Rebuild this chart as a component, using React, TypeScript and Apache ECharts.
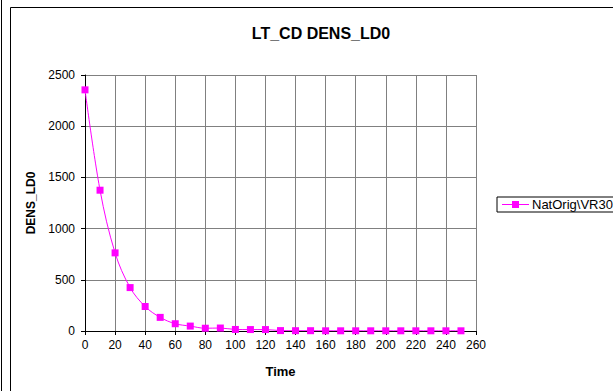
import React, { useEffect, useRef } from "react";
import * as echarts from "echarts";

const titleText = "LT_CD DENS_LD0";
const xName = "Time";
const yName = "DENS_LD0";
const seriesName = "NatOrig\\VR30";
const times = [0, 10, 20, 30, 40, 50, 60, 70, 80, 90, 100, 110, 120, 130, 140, 150, 160, 170, 180, 190, 200, 210, 220, 230, 240, 250];
const values = [2355, 1375, 763, 424, 239, 133, 71, 48, 27, 29, 15, 14, 14, 4, 3, 3, 2, 2, 2, 2, 2, 2, 2, 2, 2, 2];

const FONT = "Liberation Sans, Arial, sans-serif";

export default function App() {
  const ref = useRef<HTMLDivElement>(null);
  useEffect(() => {
    document.body.style.margin = "0";
    document.documentElement.style.overflow = "hidden";
    const chart = echarts.init(ref.current!, null, { renderer: "svg" });
    chart.setOption({
      animation: false,
      backgroundColor: "#ffffff",
      textStyle: { fontFamily: FONT },
      title: {
        text: titleText,
        left: 316,
        top: 20,
        textAlign: "center",
        textStyle: { fontFamily: FONT, fontSize: 16, fontWeight: "bold", color: "#000" },
      },
      graphic: [
        { type: "line", shape: { x1: 1.5, y1: 0, x2: 1.5, y2: 391 }, style: { stroke: "#000", lineWidth: 1 } },
        { type: "line", shape: { x1: 10.5, y1: 7.5, x2: 10.5, y2: 391 }, style: { stroke: "#000", lineWidth: 1 } },
        { type: "line", shape: { x1: 10.5, y1: 7.5, x2: 613, y2: 7.5 }, style: { stroke: "#000", lineWidth: 1 } },
      ],
      legend: {
        left: 497,
        top: 197,
        orient: "vertical",
        padding: [1, 4, 1, 5],
        itemWidth: 27,
        itemHeight: 7,
        itemGap: 0,
        borderColor: "#000",
        borderWidth: 1,
        textStyle: { fontFamily: FONT, fontSize: 13, color: "#000", padding: [0, 0, 0, -2] },
        data: [{ name: seriesName, icon: "path://M0,3 L27,3 L27,4 L0,4 Z M10,0 L17,0 L17,7 L10,7 Z" }],
      },
      grid: { left: 85, right: 137, top: 75, bottom: 60, containLabel: false },
      xAxis: {
        type: "value",
        min: 0,
        max: 260,
        interval: 20,
        name: xName,
        nameLocation: "middle",
        nameGap: 34,
        nameTextStyle: { fontFamily: FONT, fontSize: 13, fontWeight: "bold", color: "#000" },
        axisLine: { lineStyle: { color: "#000", width: 1 } },
        axisTick: { show: true, length: 4, lineStyle: { color: "#000" } },
        axisLabel: { fontFamily: FONT, fontSize: 12, color: "#000", margin: 8, formatter: (v: number) => String(v) },
        splitLine: { show: true, lineStyle: { color: "#808080", width: 1 } },
      },
      yAxis: {
        type: "value",
        min: 0,
        max: 2500,
        interval: 500,
        name: yName,
        nameLocation: "middle",
        nameGap: 47,
        nameTextStyle: { fontFamily: FONT, fontSize: 12, fontWeight: "bold", color: "#000" },
        axisLine: { show: true, lineStyle: { color: "#000", width: 1 } },
        axisTick: { show: true, length: 4, lineStyle: { color: "#000" } },
        axisLabel: { fontFamily: FONT, fontSize: 12, color: "#000", margin: 10, formatter: (v: number) => String(v) },
        splitLine: { show: true, lineStyle: { color: "#808080", width: 1 } },
      },
      series: [
        {
          name: seriesName,
          type: "line",
          smooth: 0.35,
          data: times.map((t, i) => [t, values[i]]),
          symbol: "rect",
          symbolSize: 7,
          itemStyle: { color: "#ff00ff" },
          lineStyle: { color: "#ff00ff", width: 1 },
        },
      ],
    });
    return () => chart.dispose();
  }, []);
  return <div ref={ref} style={{ width: 613, height: 391 }} />;
}
